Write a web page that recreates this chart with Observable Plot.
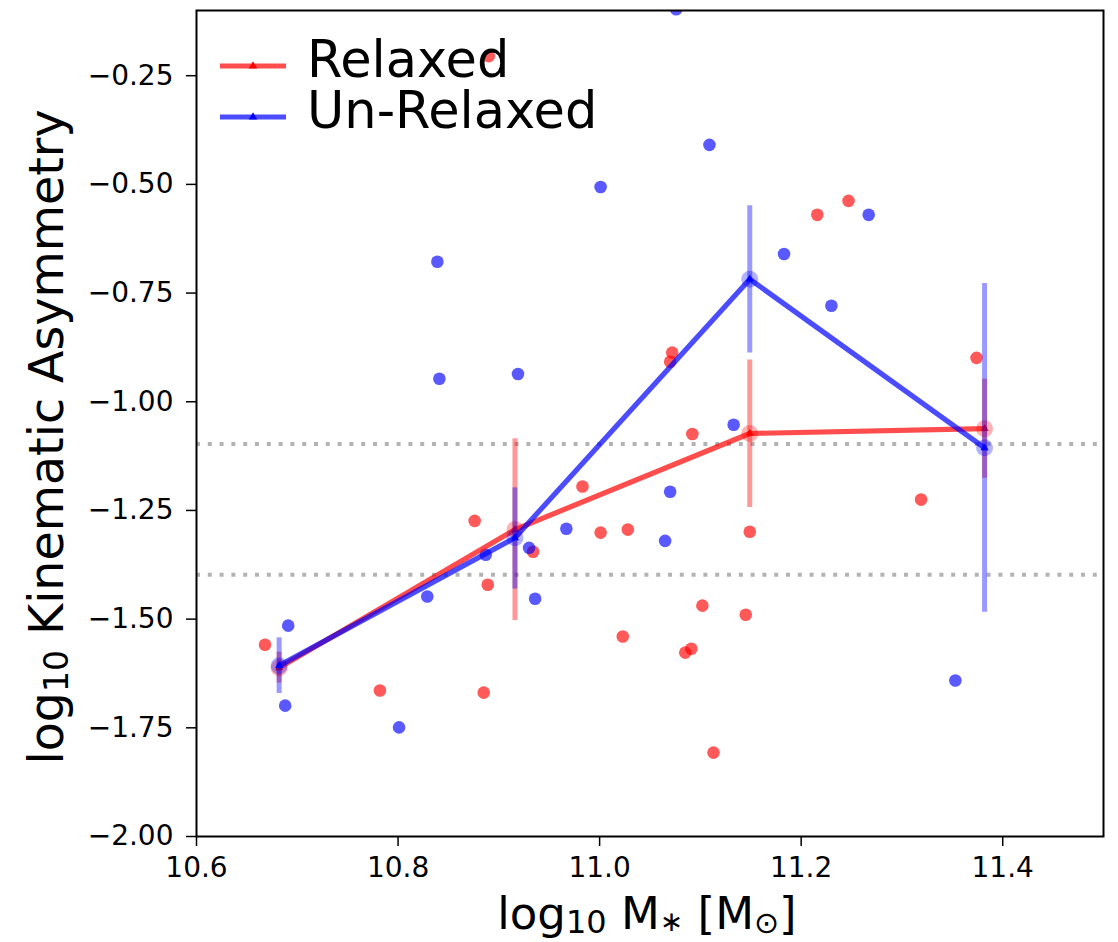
<!DOCTYPE html>
<html>
<head>
<meta charset="utf-8">
<script src="https://cdn.jsdelivr.net/npm/d3@7"></script>
<script src="https://cdn.jsdelivr.net/npm/@observablehq/plot@0.6"></script>
<style>
  html, body { margin: 0; padding: 0; background: #fff; }
  svg { display: block; }
</style>
</head>
<body>
<div id="chart"></div>
<script>
// ---- data ----
const relaxedX = [10.668, 10.782, 10.876, 10.889, 10.885, 10.890, 10.934, 10.983, 11.001, 11.028, 11.023, 11.070, 11.072, 11.092, 11.102, 11.085, 11.091, 11.113, 11.145, 11.149, 11.216, 11.247, 11.319, 11.374];
const relaxedY = [-1.559, -1.664, -1.274, -1.421, -1.669, -0.205, -1.345, -1.195, -1.301, -1.294, -1.540, -0.908, -0.887, -1.074, -1.469, -1.577, -1.568, -1.807, -1.490, -1.299, -0.570, -0.538, -1.225, -0.899];

const unrelaxedX = [10.691, 10.688, 10.801, 10.829, 10.839, 10.841, 10.887, 10.919, 10.930, 10.936, 10.967, 11.001, 11.065, 11.070, 11.076, 11.109, 11.133, 11.183, 11.230, 11.267, 11.353];
const unrelaxedY = [-1.515, -1.699, -1.749, -1.448, -0.678, -0.947, -1.352, -0.936, -1.336, -1.453, -1.292, -0.506, -1.320, -1.207, -0.097, -0.409, -1.053, -0.660, -0.779, -0.570, -1.641];

const binCenters = [10.682, 10.916, 11.149, 11.382];
const relaxedMedian = [-1.612, -1.294, -1.073, -1.062];
const relaxedLow = [-1.647, -1.503, -1.243, -1.176];
const relaxedHigh = [-1.576, -1.085, -0.904, -0.948];
const unrelaxedMedian = [-1.607, -1.313, -0.718, -1.106];
const unrelaxedLow = [-1.671, -1.431, -0.888, -1.484];
const unrelaxedHigh = [-1.543, -1.198, -0.549, -0.728];

const thresholds = [Math.log10(0.08), Math.log10(0.04)];
const xTicks = [10.6, 10.8, 11.0, 11.2, 11.4];
const yTicks = [-2.0, -1.75, -1.5, -1.25, -1.0, -0.75, -0.5, -0.25];
const seriesNames = ["Relaxed", "Un-Relaxed"];
const seriesColors = ["red", "blue"];

// ---- tables built from arrays ----
const relaxedPts = relaxedX.map((x, i) => ({x, y: relaxedY[i]}));
const unrelaxedPts = unrelaxedX.map((x, i) => ({x, y: unrelaxedY[i]}));
const relaxedBins = binCenters.map((x, i) => ({x, y: relaxedMedian[i], lo: relaxedLow[i], hi: relaxedHigh[i]}));
const unrelaxedBins = binCenters.map((x, i) => ({x, y: unrelaxedMedian[i], lo: unrelaxedLow[i], hi: unrelaxedHigh[i]}));

const FONT = "DejaVu Sans, Liberation Sans, sans-serif";

const svg = Plot.plot({
  width: 1118,
  height: 942,
  marginLeft: 196,
  marginTop: 10,
  marginRight: 15,
  marginBottom: 106,
  style: {fontFamily: FONT, fontSize: "28px", color: "black", background: "white"},
  x: {domain: [10.6, 11.5], label: null},
  y: {domain: [-2.0, -0.1], label: null},
  marks: [
    Plot.ruleY(thresholds, {stroke: "#999", strokeOpacity: 0.75, strokeWidth: 4, strokeDasharray: "4,7.8"}),
    Plot.dot(relaxedPts, {x: "x", y: "y", r: 6.3, fill: "red", fillOpacity: 0.65, stroke: "none", clip: true}),
    Plot.dot(unrelaxedPts, {x: "x", y: "y", r: 6.3, fill: "blue", fillOpacity: 0.65, stroke: "none", clip: true}),
    Plot.ruleX(relaxedBins, {x: "x", y1: "lo", y2: "hi", stroke: "red", strokeOpacity: 0.4, strokeWidth: 5}),
    Plot.line(relaxedBins, {x: "x", y: "y", stroke: "red", strokeOpacity: 0.7, strokeWidth: 5.2}),
    Plot.dot(relaxedBins, {x: "x", y: "y", r: 8.5, fill: "red", fillOpacity: 0.3, stroke: "none"}),
    Plot.dot(relaxedBins, {x: "x", y: "y", r: 3, symbol: "triangle", fill: "red", stroke: "none"}),
    Plot.ruleX(unrelaxedBins, {x: "x", y1: "lo", y2: "hi", stroke: "blue", strokeOpacity: 0.4, strokeWidth: 5}),
    Plot.line(unrelaxedBins, {x: "x", y: "y", stroke: "blue", strokeOpacity: 0.7, strokeWidth: 5.2}),
    Plot.dot(unrelaxedBins, {x: "x", y: "y", r: 8.5, fill: "blue", fillOpacity: 0.3, stroke: "none"}),
    Plot.dot(unrelaxedBins, {x: "x", y: "y", r: 3, symbol: "triangle", fill: "blue", stroke: "none"}),
    Plot.frame({stroke: "black", strokeWidth: 2}),
    Plot.axisX({ticks: xTicks, tickFormat: d3.format(".1f"), tickSize: 10, tickPadding: 11, strokeWidth: 1.5, fontSize: 28, label: null}),
    Plot.axisY({ticks: yTicks, tickFormat: d3.format(".2f"), tickSize: 10, tickPadding: 13, strokeWidth: 1.5, fontSize: 28, label: null})
  ]
});

document.getElementById("chart").appendChild(svg);

// ---- axis titles with subscripts and legend ----
const s = d3.select(svg);

// y-axis title
const yt = s.append("text")
  .attr("transform", "translate(63,437) rotate(-90)")
  .attr("text-anchor", "middle")
  .attr("font-family", FONT)
  .attr("font-size", 47.5)
  .attr("fill", "black");
yt.append("tspan").text("log");
yt.append("tspan").attr("font-size", 33).attr("dy", 5).text("10");
yt.append("tspan").attr("dy", -5).text(" Kinematic Asymmetry");

// x-axis title
const xt = s.append("text")
  .attr("x", 647)
  .attr("y", 929)
  .attr("text-anchor", "middle")
  .attr("font-family", FONT)
  .attr("font-size", 45)
  .attr("fill", "black");
xt.append("tspan").text("log");
xt.append("tspan").attr("font-size", 32).attr("dy", 4).text("10");
xt.append("tspan").attr("dy", -4).text(" M");
xt.append("tspan").attr("font-size", 28).attr("dy", 2).text("\u2217");
xt.append("tspan").attr("dy", -2).text(" [M");
xt.append("tspan").attr("font-size", 30).attr("dy", 4).text("\u2299");
xt.append("tspan").attr("dy", -4).text("]");

// legend
const legendY = [66, 117];
const lg = s.append("g").attr("text-anchor", "start");
seriesNames.forEach((name, i) => {
  lg.append("line")
    .attr("x1", 220).attr("x2", 286)
    .attr("y1", legendY[i]).attr("y2", legendY[i])
    .attr("stroke", seriesColors[i]).attr("stroke-opacity", 0.7).attr("stroke-width", 5.2);
  lg.append("path")
    .attr("d", d3.symbol(d3.symbolTriangle, 30)())
    .attr("transform", `translate(253,${legendY[i]})`)
    .attr("fill", seriesColors[i]);
  lg.append("text")
    .attr("x", 307).attr("y", legendY[i] + 11)
    .attr("text-anchor", "start")
    .attr("font-family", FONT).attr("font-size", 51).attr("fill", "black")
    .text(name);
});
</script>
</body>
</html>
